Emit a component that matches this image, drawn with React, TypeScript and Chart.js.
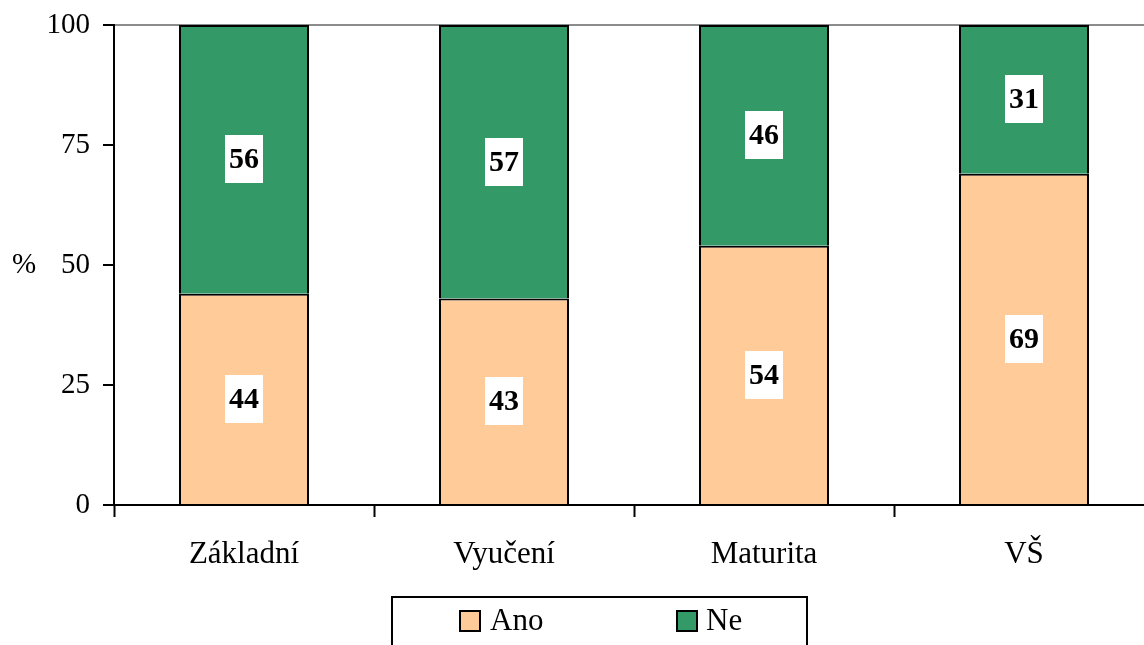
import React, { useEffect, useRef } from "react";
import { Chart, registerables } from "chart.js";

Chart.register(...registerables);

const categories = ["Základní", "Vyučení", "Maturita", "VŠ"];
const anoValues = [44, 43, 54, 69];
const neValues = [56, 57, 46, 31];
const seriesNames = ["Ano", "Ne"];
const seriesColors = ["#FFCC99", "#339966"];
const yTicks = [0, 25, 50, 75, 100];
const yTitle = "%";

const FONT = "'Liberation Serif', 'Times New Roman', serif";

const labelPlugin = {
  id: "barLabels",
  afterDatasetsDraw(chart: any) {
    const ctx = chart.ctx;
    ctx.save();
    chart.data.datasets.forEach((ds: any, di: number) => {
      const meta = chart.getDatasetMeta(di);
      meta.data.forEach((el: any, i: number) => {
        const v = ds.data[i];
        const cx = el.x;
        const cy = (el.y + el.base) / 2;
        ctx.font = `bold 30px ${FONT}`;
        const text = String(v);
        const tw = ctx.measureText(text).width;
        const w = tw + 8;
        const h = 48;
        ctx.fillStyle = "#ffffff";
        ctx.fillRect(Math.round(cx - w / 2), Math.round(cy - h / 2), Math.round(w), h);
        ctx.fillStyle = "#000000";
        ctx.textAlign = "center";
        ctx.textBaseline = "middle";
        ctx.fillText(text, cx, cy + 1);
      });
    });
    ctx.restore();
  },
};

const extrasPlugin = {
  id: "extras",
  afterDraw(chart: any) {
    const ctx = chart.ctx;
    const yScale = chart.scales.y;
    ctx.save();
    ctx.font = `29px ${FONT}`;
    ctx.fillStyle = "#000";
    ctx.textAlign = "left";
    ctx.textBaseline = "middle";
    ctx.fillText(yTitle, 12, yScale.getPixelForValue(50));
    ctx.strokeStyle = "#000";
    ctx.lineWidth = 2;
    ctx.strokeRect(392, 597, 415, 80);
    const items = [
      { sx: 460, tx: 490 },
      { sx: 677, tx: 706 },
    ];
    items.forEach((it, i) => {
      ctx.fillStyle = seriesColors[i];
      ctx.fillRect(it.sx, 611, 20, 20);
      ctx.strokeStyle = "#000";
      ctx.lineWidth = 2;
      ctx.strokeRect(it.sx, 611, 20, 20);
      ctx.fillStyle = "#000";
      ctx.font = `31px ${FONT}`;
      ctx.textAlign = "left";
      ctx.textBaseline = "middle";
      ctx.fillText(seriesNames[i], it.tx, 622);
    });
    ctx.restore();
  },
};

export default function App() {
  const ref = useRef<HTMLCanvasElement>(null);
  useEffect(() => {
    if (!ref.current) return;
    Chart.defaults.color = "#000";
    const chart = new Chart(ref.current, {
      type: "bar",
      data: {
        labels: categories,
        datasets: [
          {
            label: seriesNames[0],
            data: anoValues,
            backgroundColor: seriesColors[0],
            borderColor: "#000",
            borderWidth: 2,
            barPercentage: 0.5,
            categoryPercentage: 1,
          },
          {
            label: seriesNames[1],
            data: neValues,
            backgroundColor: seriesColors[1],
            borderColor: "#000",
            borderWidth: 2,
            barPercentage: 0.5,
            categoryPercentage: 1,
          },
        ],
      },
      options: {
        responsive: false,
        animation: false,
        devicePixelRatio: 1,
        layout: { padding: { left: 0, right: 6, top: 25, bottom: 50 } },
        plugins: {
          legend: { display: false },
          tooltip: { enabled: false },
          title: { display: false },
        },
        scales: {
          x: {
            stacked: true,
            offset: true,
            border: { display: true, color: "#000", width: 2 },
            grid: {
              display: true,
              offset: true,
              drawOnChartArea: false,
              tickLength: 12,
              tickColor: "#000",
              tickWidth: 2,
            },
            ticks: {
              font: { family: FONT, size: 31 },
              color: "#000",
              padding: 19,
              maxRotation: 0,
            },
            afterFit(scale: any) {
              scale.height = 90;
              scale.paddingLeft = 0;
              scale.paddingRight = 0;
            },
          },
          y: {
            stacked: true,
            min: 0,
            max: 100,
            afterBuildTicks(scale: any) {
              scale.ticks = yTicks.map((v) => ({ value: v }));
            },
            border: { display: true, color: "#000", width: 2 },
            grid: {
              drawOnChartArea: true,
              color: (c: any) => (c.tick && c.tick.value === 100 ? "#8c8c8c" : "rgba(0,0,0,0)"),
              lineWidth: 2,
              tickLength: 11,
              tickColor: "#000",
              tickWidth: 2,
            },
            ticks: {
              font: { family: FONT, size: 29 },
              color: "#000",
              padding: 13,
            },
            afterFit(scale: any) {
              scale.width = 114;
              scale.paddingTop = 0;
              scale.paddingBottom = 0;
            },
          },
        },
      },
      plugins: [labelPlugin, extrasPlugin],
    });
    return () => chart.destroy();
  }, []);
  return (
    <div
      style={{
        position: "fixed",
        left: 0,
        top: 0,
        width: 1144,
        height: 645,
        overflow: "hidden",
        background: "#fff",
      }}
    >
      <canvas ref={ref} width={1160} height={645} style={{ display: "block" }} />
    </div>
  );
}
